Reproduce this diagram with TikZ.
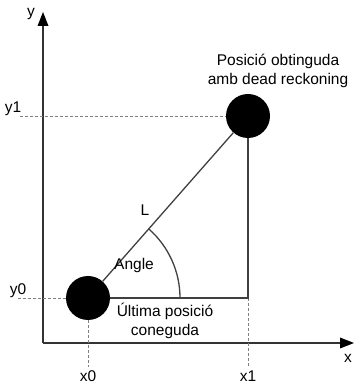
\documentclass[tikz,border=0pt]{standalone}
\usepackage{fontspec}
\setmainfont{Liberation Sans}

\begin{document}
\begin{tikzpicture}[x=1pt,y=1pt,font=\fontsize{15.5}{19}\selectfont,
  dot/.style={circle,fill=black,inner sep=0pt,minimum size=44pt},
  guide/.style={densely dashed,gray,line width=0.7pt},
  axisline/.style={line width=1.6pt,black!80},
  link/.style={line width=1.3pt,black!75}]
\useasboundingbox (0,0) rectangle (354,385);

\coordinate (o) at (43,42);
\coordinate (c) at (248,87);
\coordinate (ytip) at (43,373);
\coordinate (xtip) at (354,42);
\node[dot] (p0) at (88,87) {};
\node[dot] (p1) at (248,269) {};

\draw[axisline] (o) -- ([yshift=-8pt]ytip);
\draw[axisline] (o) -- ([xshift=-8pt]xtip);
\fill[black] (ytip) -- ++(-5.5,-14) -- ++(11,0) -- cycle;
\fill[black] (xtip) -- ++(-14,5.5) -- ++(0,-11) -- cycle;
\node (ylab) at (31,371) {y};
\node (xlab) at (348,27) {x};

\node (y1) at (13,276) {y1};
\node (y0) at (18,94) {y0};
\node (x0) at (88,9) {x0};
\node (x1) at (248,9) {x1};
\draw[guide] (20,269) -- (p1);
\draw[guide] (18,87) -- (p0);
\draw[guide] (p0) -- (88,18);
\draw[guide] (c) -- (248,18);

\draw[link] (p0) -- (p1);
\draw[link] (p0) -- (c) -- (p1);
\draw[link] (180,87) arc[start angle=0,end angle=48.7,radius=92];

\node (lab-l) at (145,175) {L};
\node (lab-angle) at (134,120) {Angle};
\node[align=center] (lab-p0) at (165,64) {Última posició\\coneguda};
\node[align=center] (lab-p1) at (278,314) {Posició obtinguda\\amb dead reckoning};
\end{tikzpicture}
\end{document}
